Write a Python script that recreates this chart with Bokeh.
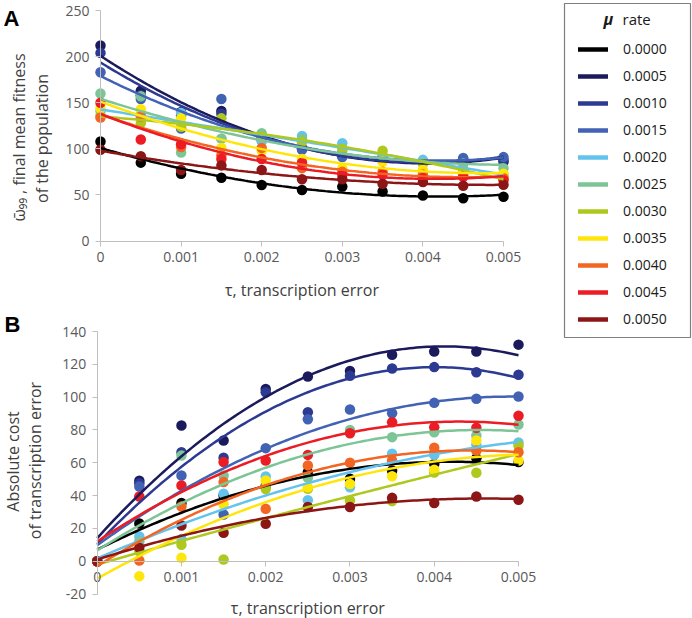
import math
import numpy as np
from bokeh.plotting import figure
from bokeh.models import Range1d, FixedTicker, Label, Legend, LegendItem
from bokeh.layouts import row, column
from bokeh.embed import file_html
from bokeh.resources import INLINE

# ---------------- data ----------------
tau = [0.0, 0.0005, 0.001, 0.0015, 0.002, 0.0025, 0.003, 0.0035, 0.004, 0.0045, 0.005]
mu_rates = ["0.0000", "0.0005", "0.0010", "0.0015", "0.0020", "0.0025",
            "0.0030", "0.0035", "0.0040", "0.0045", "0.0050"]
mu_colors = ["#000000", "#1B1A5C", "#2C3A92", "#4262B4", "#63C3EC", "#7DC596",
             "#AEC81E", "#FFE60A", "#F26522", "#EB1C24", "#8C1616"]

# Panel A: final mean fitness of the population
fitness_mu0000 = [108, 85, 73, 68.6, 60.7, 55.4, 59, 53.6, 49.3, 46.4, 48]
fitness_mu0005 = [212, 163, 140, 141, 111, 101, 92, 91, 86, 87, 86]
fitness_mu0010 = [204, 158, 136, 138, 112, 100, 93, 89, 86, 89, 88]
fitness_mu0015 = [183, 154, 122, 154, 109, 99, 91, 90, 85, 90, 91]
fitness_mu0020 = [141, 137, 139, 111, 109, 114, 106, 91, 88, 78, 72]
fitness_mu0025 = [160, 157, 96, 111, 117, 111, 98, 92, 85, 84, 79]
fitness_mu0030 = [136, 128, 124, 133, 113, 107, 100, 98, 84, 76, 68]
fitness_mu0035 = [144, 143, 133, 101, 98, 89, 79, 86, 77, 73, 73]
fitness_mu0040 = [134, 135, 102, 93, 101, 79, 75, 75, 72, 70, 68]
fitness_mu0045 = [150, 110, 105, 89, 89, 85, 72, 72, 68, 70, 66]
fitness_mu0050 = [99, 92, 77, 82, 77, 67, 67, 62, 64, 60, 61]

# Panel B: absolute cost of transcription error
cost_mu0000 = [0, 23, 35.5, 40, 46, 54.3, 50.2, 55.3, 59.3, 62.8, 60.4]
cost_mu0005 = [0, 49, 82.7, 73.6, 105, 112.6, 116, 125.8, 127.8, 127.8, 132]
cost_mu0010 = [0, 47.5, 66.4, 63, 103, 90.8, 113, 117.5, 118.3, 115.2, 113.6]
cost_mu0015 = [0, 45.5, 52.2, 28.5, 68.9, 86.5, 92.5, 90.2, 96.5, 99, 100.4]
cost_mu0020 = [0, 15.1, 13.6, 41.1, 51.7, 37.2, 45, 65.5, 64.8, 71, 72.4]
cost_mu0025 = [0, 12, 64.4, 52.2, 45.2, 50.8, 80, 75.6, 78.6, 76.6, 83.3]
cost_mu0030 = [0, 6, 10, 1, 44, 44.2, 37, 36.6, 54, 53.9, 70.4]
cost_mu0035 = [0, -9.1, 2.1, 34.6, 49.2, 45, 47, 51.8, 55.7, 73.6, 61.4]
cost_mu0040 = [0, 0.4, 33.3, 48.2, 31.9, 58.4, 60, 61.4, 69.1, 67.5, 66.4]
cost_mu0045 = [0, 39.4, 46.1, 60.4, 61.4, 64.8, 78, 84.7, 81.7, 81.3, 88.6]
cost_mu0050 = [0, 8.2, 21.8, 17.3, 22.8, 33, 33, 38.6, 35.4, 39.4, 37.4]

fitness_series = [fitness_mu0000, fitness_mu0005, fitness_mu0010, fitness_mu0015,
                  fitness_mu0020, fitness_mu0025, fitness_mu0030, fitness_mu0035,
                  fitness_mu0040, fitness_mu0045, fitness_mu0050]
cost_series = [cost_mu0000, cost_mu0005, cost_mu0010, cost_mu0015, cost_mu0020,
               cost_mu0025, cost_mu0030, cost_mu0035, cost_mu0040, cost_mu0045,
               cost_mu0050]

x_ticks = [0.0, 0.001, 0.002, 0.003, 0.004, 0.005]
x_tick_labels = ["0", "0.001", "0.002", "0.003", "0.004", "0.005"]
a_y_ticks = [0, 50, 100, 150, 200, 250]
a_y_tick_labels = ["0", "50", "100", "150", "200", "250"]
b_y_ticks = [-20, 0, 20, 40, 60, 80, 100, 120, 140]
b_y_tick_labels = ["-20", "0", "20", "40", "60", "80", "100", "120", "140"]

# ---------------- styling ----------------
FONT = "Open Sans"
TICK_C = "#595959"
AXIS_C = "#BFBFBF"
TITLE_C = "#404040"


def style_axis(ax, ticks, labels, bounds, loc):
    ax.fixed_location = loc
    ax.ticker = FixedTicker(ticks=ticks)
    ax.major_label_overrides = dict(zip(ticks, labels))
    ax.bounds = bounds
    ax.axis_line_color = AXIS_C
    ax.axis_line_width = 1
    ax.major_tick_line_color = AXIS_C
    ax.major_tick_out = 5
    ax.major_tick_in = 0
    ax.minor_tick_line_color = None
    ax.major_label_text_font = FONT
    ax.major_label_text_font_size = "14px"
    ax.major_label_text_color = TICK_C
    ax.major_label_standoff = 6
    ax.axis_label = None


def base_fig(w, h, xr, yr):
    p = figure(width=w, height=h, x_range=xr, y_range=yr, output_backend="svg",
               toolbar_location=None, tools="", min_border_left=0,
               min_border_right=0, min_border_top=0, min_border_bottom=0)
    p.outline_line_color = None
    p.xgrid.visible = False
    p.ygrid.visible = False
    p.background_fill_color = "white"
    return p


def draw_series(p, series):
    t = np.array(tau)
    dense = np.linspace(0.0, 0.005, 121)
    for vals, c in zip(series, mu_colors):
        p.scatter(tau, vals, size=10.5, fill_color=c, line_color=None)
    for vals, c in zip(series, mu_colors):
        coef = np.polyfit(t, np.array(vals, dtype=float), 2)  # trendline of the data
        p.line(dense, np.polyval(coef, dense), line_color=c, line_width=2.5)


def add_label(p, x, y, text, size="16px", angle=0.0, align="center",
              baseline="middle", style="normal", color=TITLE_C, font=FONT):
    p.add_layout(Label(x=x, y=y, text=text, angle=angle, text_align=align,
                       text_baseline=baseline, text_font=font,
                       text_font_size=size, text_font_style=style,
                       text_color=color))


# ---------------- panel A (frame = whole canvas) ----------------
WA, HA = 563, 300
A_X0, A_X1 = 100.0, 503.0          # canvas px of tau = 0 and 0.005
A_Y0, A_Y250 = 240.5, 10.0         # canvas px of value 0 and 250


def ax_(cx):
    return (cx - A_X0) * 0.005 / (A_X1 - A_X0)


def ay_(cy):
    return (A_Y0 - cy) * 250.0 / (A_Y0 - A_Y250)


pA = base_fig(WA, HA, Range1d(ax_(0), ax_(WA)), Range1d(ay_(HA), ay_(0)))
style_axis(pA.xaxis[0], x_ticks, x_tick_labels, (0, 0.005), 0)
style_axis(pA.yaxis[0], a_y_ticks, a_y_tick_labels, (0, 250), 0)
draw_series(pA, fitness_series)
add_label(pA, ax_(3), ay_(5), "A", size="22px", align="left", baseline="top",
          style="bold", color="#000000", font="Liberation Sans")
add_label(pA, ax_(18), ay_(137), "\u03c9\u0304\u2089\u2089 , final mean fitness",
          angle=math.pi / 2)
add_label(pA, ax_(41), ay_(138), "of the population", angle=math.pi / 2)
add_label(pA, 0.0025, ay_(289), "\u03c4, transcription error")

# ---------------- panel B (frame = whole canvas) ----------------
WB, HB = 563, 318
B_X0, B_X1 = 96.7, 518.0
B_Y0, B_Y140 = 260.7, 31.0


def bx_(cx):
    return (cx - B_X0) * 0.005 / (B_X1 - B_X0)


def by_(cy):
    return (B_Y0 - cy) * 140.0 / (B_Y0 - B_Y140)


pB = base_fig(WB, HB, Range1d(bx_(0), bx_(WB)), Range1d(by_(HB), by_(0)))
style_axis(pB.xaxis[0], x_ticks, x_tick_labels, (0, 0.005), 0)
style_axis(pB.yaxis[0], b_y_ticks, b_y_tick_labels, (-20, 140), 0)
draw_series(pB, cost_series)
add_label(pB, bx_(4), by_(11), "B", size="22px", align="left", baseline="top",
          style="bold", color="#000000", font="Liberation Sans")
add_label(pB, bx_(12), by_(161), "Absolute cost", angle=math.pi / 2)
add_label(pB, bx_(34.5), by_(160), "of transcription error", angle=math.pi / 2)
add_label(pB, 0.0025, by_(307), "\u03c4, transcription error")

# ---------------- legend box ----------------
WL, HL = 129, 338
pL = figure(width=WL, height=HL, x_range=Range1d(0, 126), y_range=Range1d(0, 334),
            output_backend="svg", toolbar_location=None, tools="",
            x_axis_location=None, y_axis_location=None,
            min_border_left=1, min_border_right=2, min_border_top=3, min_border_bottom=1)
pL.grid.visible = False
pL.outline_line_color = "#7F7F7F"
pL.outline_line_width = 1.2
items = []
for lab, c in zip(mu_rates, mu_colors):
    r = pL.line([-100, -90], [-100, -100], line_color=c, line_width=4.5, line_cap="round")
    items.append(LegendItem(label=lab, renderers=[r]))
legend = Legend(items=items, location=(14, 8.5), orientation="vertical",
                glyph_width=30, glyph_height=20, label_height=20, spacing=7,
                padding=0, margin=0, border_line_color=None,
                background_fill_alpha=0, label_standoff=15,
                label_text_font=FONT, label_text_font_size="14px",
                label_text_color="#1A1A1A")
pL.add_layout(legend)
add_label(pL, 39, 319, "\u03bc", size="16px", align="left",
          style="bold italic", color="#1A1A1A")
add_label(pL, 58, 319, "rate", size="15px", align="left", color="#1A1A1A")

layout = row(column(pA, pB), pL)
open("out.html", "w").write(file_html(layout, INLINE))
